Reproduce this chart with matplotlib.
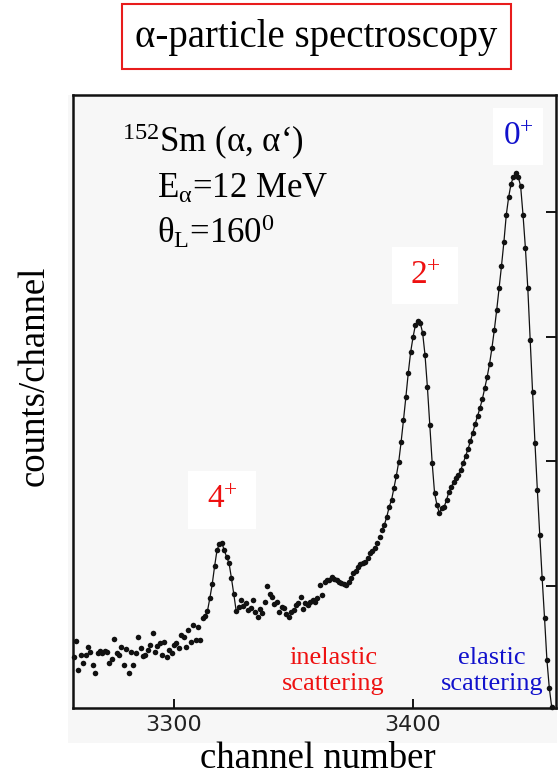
import numpy as np
import matplotlib
matplotlib.use("Agg")
import matplotlib.pyplot as plt
from matplotlib.patches import Rectangle

plt.rcParams['font.family'] = ['Liberation Serif', 'DejaVu Serif']
plt.rcParams['mathtext.fontset'] = 'custom'
plt.rcParams['mathtext.rm'] = 'Liberation Serif'
plt.rcParams['mathtext.it'] = 'Liberation Serif:italic'
plt.rcParams['mathtext.bf'] = 'Liberation Serif:bold'

# ---------------- data ----------------
channel_start = 3258
counts = [
    213, 277, 161, 221, 189, 221, 253, 233, 181, 149,
    229, 237, 229, 237, 233, 189, 205, 285, 229, 221,
    253, 181, 245, 149, 233, 181, 229, 293, 249, 217,
    221, 241, 261, 310, 233, 257, 269, 221, 273, 213,
    241, 229, 261, 269, 249, 302, 293, 253, 322, 273,
    342, 281, 334, 281, 370, 378, 398, 450, 507, 579,
    643, 667, 671, 643, 615, 591, 531, 466, 398, 414,
    442, 418, 430, 402, 410, 442, 394, 374, 406, 390,
    434, 498, 466, 454, 426, 434, 394, 414, 410, 386,
    374, 394, 402, 422, 430, 454, 406, 430, 422, 434,
    442, 434, 450, 503, 462, 515, 523, 523, 535, 527,
    523, 515, 511, 507, 503, 515, 531, 551, 559, 575,
    587, 591, 595, 611, 631, 639, 651, 671, 695, 724,
    744, 776, 816, 844, 892, 941, 997, 1077, 1166, 1258,
    1355, 1439, 1499, 1548, 1564, 1556, 1516, 1427, 1298, 1146,
    993, 872, 824, 792, 812, 816, 844, 876, 896, 917,
    933, 945, 965, 993, 1021, 1049, 1081, 1114, 1150, 1182,
    1214, 1250, 1294, 1339, 1391, 1455, 1528, 1608, 1696, 1785,
    1881, 1990, 2062, 2115, 2143, 2159, 2143, 2106, 1990, 1857,
    1696, 1487, 1278, 1073, 884, 704, 531, 370, 201, 88, 12,
]
channels = np.arange(channel_start, channel_start + len(counts))
counts = np.array(counts)

line_segments = [(3312, 3326), (3387, 3458)]   # channel ranges joined by a line
x_ticks = [3300, 3400]
y_ticks = [500, 1000, 1500, 2000]

peak_labels = ["0$^{+}$", "2$^{+}$", "4$^{+}$"]
peak_colors = ["#1111cc", "#ee1111", "#ee1111"]

# ---------------- figure ----------------
W, H = 558, 779
fig = plt.figure(figsize=(W / 100, H / 100), dpi=100)


def fx(px):
    return px / W


def fy(py):
    return 1 - py / H


# light grey scanned-plot background
fig.patches.append(Rectangle((fx(68), fy(743)), fx(557) - fx(68), fy(95) - fy(743),
                             transform=fig.transFigure, facecolor="#f7f7f7",
                             edgecolor="none", zorder=-5))

ax = fig.add_axes([fx(73), fy(707.7), fx(556) - fx(73), fy(95) - fy(707.7)])
ax.set_facecolor("none")
ax.set_zorder(0.5)

for a, b in line_segments:
    m = (channels >= a) & (channels <= b)
    ax.plot(channels[m], counts[m], color="#111111", lw=0.9, zorder=3)
ax.plot(channels, counts, "o", color="#111111", ms=4.0, mec="none", zorder=4,
        clip_on=False)

ax.set_xlim(3257.74, 3459.8)
ax.set_ylim(9, 2472)
ax.set_xticks(x_ticks)
ax.set_xticklabels([str(t) for t in x_ticks], family="DejaVu Sans", fontsize=16,
                   color="#222222")
ax.set_yticks(y_ticks)
ax.tick_params(axis="x", direction="in", length=6.5, width=1.3, pad=5,
               top=False, bottom=True)
ax.tick_params(axis="y", direction="in", length=7, width=1.3, left=False,
               right=True, labelleft=False, labelright=False)
for s in ax.spines.values():
    s.set_linewidth(1.8)
    s.set_color("#111111")

# ---------------- texts ----------------
# title box
fig.patches.append(Rectangle((fx(122), fy(69)), fx(511) - fx(122), fy(4) - fy(69),
                             transform=fig.transFigure, facecolor="white",
                             edgecolor="#e81c1c", lw=1.5, zorder=1))
fig.text(fx(316.5), fy(37), "α-particle spectroscopy", fontsize=28,
         ha="center", va="center", zorder=2)

fig.text(fx(318), fy(768), "channel number", fontsize=26.5, ha="center",
         va="baseline")
fig.text(fx(34), fy(376), "counts/channel", fontsize=26.5, ha="center",
         va="center", rotation=90)

fig.text(fx(122), fy(152), "$^{152}$Sm (α, α‘)", fontsize=25, va="baseline",
         zorder=2)
fig.text(fx(157), fy(198), r"E$_{\mathrm{α}}$=12 MeV", fontsize=25, va="baseline",
         zorder=2)
fig.text(fx(157), fy(243), r"θ$_{\mathrm{L}}$=160$^{\mathrm{0}}$", fontsize=25,
         va="baseline", zorder=2)

# peak labels with white boxes
boxes = [(493, 108, 543, 165), (392, 247, 458, 304), (188, 471, 256, 529)]
for lab, col, (x0, y0, x1, y1) in zip(peak_labels, peak_colors, boxes):
    fig.patches.append(Rectangle((fx(x0), fy(y1)), fx(x1) - fx(x0), fy(y0) - fy(y1),
                                 transform=fig.transFigure, facecolor="white",
                                 edgecolor="none", zorder=1))
    fig.text(fx((x0 + x1) / 2), fy((y0 + y1) / 2), lab, fontsize=24, color=col,
             ha="center", va="center", zorder=2)

fig.text(fx(333), fy(671), "inelastic\nscattering", fontsize=19, color="#ee1111",
         ha="center", va="center", linespacing=1.2, zorder=2)
fig.text(fx(492), fy(671), "elastic\nscattering", fontsize=19, color="#1111cc",
         ha="center", va="center", linespacing=1.2, zorder=2)

fig.savefig("out.png", dpi=100)
